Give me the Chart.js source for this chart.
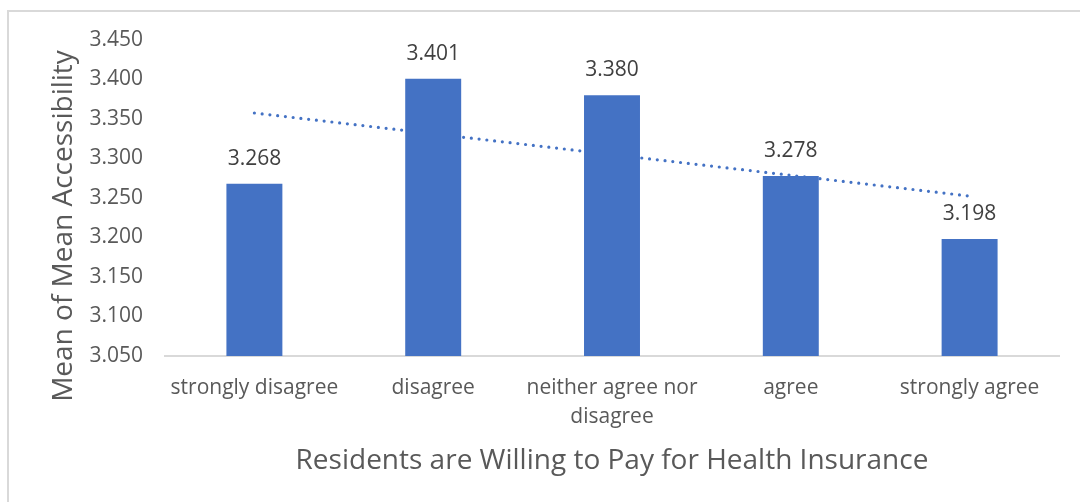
<!DOCTYPE html>
<html>
<head>
<meta charset="utf-8">
<script src="https://cdn.jsdelivr.net/npm/chart.js@4/dist/chart.umd.min.js"></script>
<style>
  body { margin: 0; background: #fff; overflow: hidden; }
  #frame { position: absolute; left: 7px; top: 10px; width: 1100px; height: 520px; border: 2px solid #d9d9d9; }
  #chart { position: absolute; left: 0; top: 0; }
</style>
</head>
<body>
<div id="frame"></div>
<canvas id="chart" width="1080" height="502"></canvas>
<script>
// willingness to pay vs. mean accessibility
var categories = ["strongly disagree", "disagree", ["neither agree nor", "disagree"], "agree", "strongly agree"];
var meanValues = [3.268, 3.401, 3.380, 3.278, 3.198];
var yTicks = [3.050, 3.100, 3.150, 3.200, 3.250, 3.300, 3.350, 3.400, 3.450];

var barColor = "#4472c4";
var FONT = "'Open Sans', sans-serif";

// least squares linear trendline through the bar values
function linearTrend(vals) {
    var n = vals.length, sx = 0, sy = 0, sxy = 0, sxx = 0;
    for (var i = 0; i < n; i++) {
        sx += i; sy += vals[i]; sxy += i * vals[i]; sxx += i * i;
    }
    var slope = (n * sxy - sx * sy) / (n * sxx - sx * sx);
    var icpt = (sy - slope * sx) / n;
    return vals.map(function (v, i) { return icpt + slope * i; });
}

// value labels over each bar
var barLabels = {
    id: "barLabels",
    afterDatasetsDraw: function (chart) {
        var ctx = chart.ctx;
        var meta = chart.getDatasetMeta(0);
        ctx.save();
        ctx.font = "21px " + FONT;
        ctx.fillStyle = "#404040";
        ctx.textAlign = "center";
        ctx.textBaseline = "middle";
        meta.data.forEach(function (bar, i) {
            ctx.fillText(meanValues[i].toFixed(3), bar.x, bar.y - 25);
        });
        ctx.restore();
    }
};

// axis titles
var axisTitles = {
    id: "axisTitles",
    afterDraw: function (chart) {
        var ctx = chart.ctx;
        var area = chart.chartArea;
        ctx.save();
        ctx.font = "28px " + FONT;
        ctx.fillStyle = "#595959";
        ctx.textAlign = "center";
        ctx.textBaseline = "middle";
        ctx.fillText("Residents are Willing to Pay for Health Insurance", (area.left + area.right) / 2, 461);
        ctx.translate(64, 226);
        ctx.rotate(-Math.PI / 2);
        ctx.fillText("Mean of Mean Accessibility", 0, 0);
        ctx.restore();
    }
};

var ctx1 = document.getElementById("chart");
var myBarChart = new Chart(ctx1, {
    type: "bar",
    data: {
        labels: categories,
        datasets: [{
            type: "bar",
            data: meanValues,
            backgroundColor: barColor,
            borderWidth: 0,
            categoryPercentage: 1,
            barPercentage: 0.313,
            order: 1
        }, {
            type: "line",
            data: linearTrend(meanValues),
            borderColor: barColor,
            borderWidth: 3.2,
            borderDash: [0, 7.8],
            borderCapStyle: "round",
            pointRadius: 0,
            fill: false,
            tension: 0,
            order: 2
        }]
    },
    options: {
        responsive: false,
        animation: false,
        devicePixelRatio: 1,
        layout: { padding: { top: 40, right: 21, left: 0, bottom: 0 } },
        plugins: {
            legend: { display: false },
            tooltip: { enabled: false }
        },
        scales: {
            x: {
                grid: { display: false, drawTicks: false },
                border: { display: true, color: "#d9d9d9", width: 2 },
                ticks: {
                    color: "#595959",
                    font: { family: FONT, size: 21, lineHeight: 1.35 },
                    padding: 18,
                    maxRotation: 0,
                    autoSkip: false
                },
                afterFit: function (scale) { scale.height = 146; }
            },
            y: {
                min: yTicks[0],
                max: yTicks[yTicks.length - 1],
                grid: { display: false, drawTicks: false },
                border: { display: false },
                afterBuildTicks: function (scale) {
                    scale.ticks = yTicks.map(function (v) { return { value: v }; });
                },
                ticks: {
                    color: "#595959",
                    font: { family: FONT, size: 21 },
                    padding: 22,
                    callback: function (v) { return Number(v).toFixed(3); }
                },
                afterFit: function (scale) { scale.width = 165; }
            }
        }
    },
    plugins: [barLabels, axisTitles]
});
</script>
</body>
</html>
